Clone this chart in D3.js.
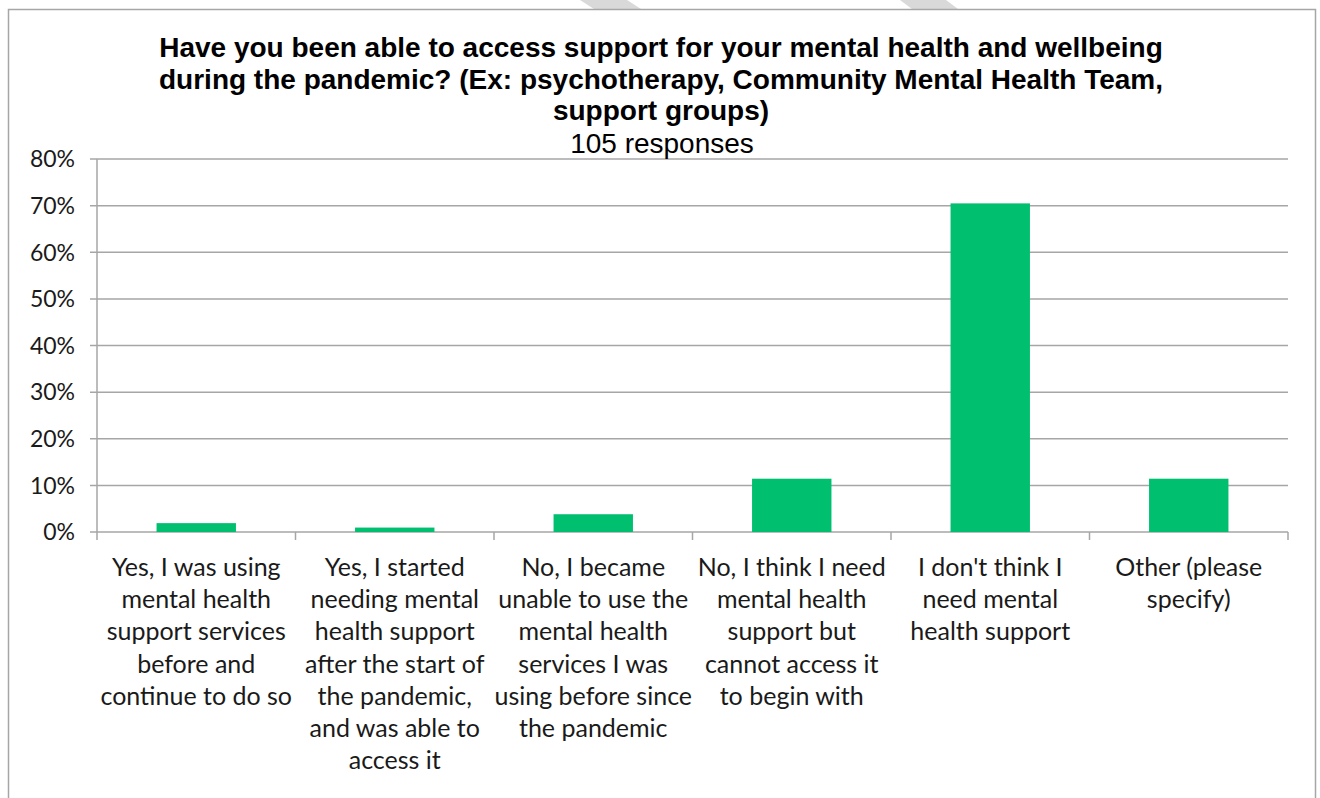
<!DOCTYPE html>
<html>
<head>
<meta charset="utf-8">
<script src="https://cdn.jsdelivr.net/npm/d3@7"></script>
<style>
  html, body { margin: 0; padding: 0; background: #fff; }
  svg { display: block; }
</style>
</head>
<body>
<svg id="chart" width="1320" height="798"></svg>
<script>
// Survey answers (line breaks as shown under each bar)
const categories = [
  "Yes, I was using\nmental health\nsupport services\nbefore and\ncontinue to do so",
  "Yes, I started\nneeding mental\nhealth support\nafter the start of\nthe pandemic,\nand was able to\naccess it",
  "No, I became\nunable to use the\nmental health\nservices I was\nusing before since\nthe pandemic",
  "No, I think I need\nmental health\nsupport but\ncannot access it\nto begin with",
  "I don't think I\nneed mental\nhealth support",
  "Other (please\nspecify)"
];
// Share of the 105 responses, in percent
const shares = [1.90, 0.95, 3.81, 11.43, 70.48, 11.43];
const yTicks = [0, 10, 20, 30, 40, 50, 60, 70, 80];
const titleLines = [
  "Have you been able to access support for your mental health and wellbeing",
  "during the pandemic? (Ex: psychotherapy, Community Mental Health Team,",
  "support groups)"
];
const subtitle = "105 responses";

const svg = d3.select("#chart");
const plot = { left: 97, right: 1288, top: 159, bottom: 532 };
const gridColor = "#a6a6a6";
const barColor = "#00bf6f";
const labelFont = "Lato, 'Open Sans', sans-serif";
const titleFont = "'Liberation Sans', Arial, sans-serif";

// faint diagonal marks peeking above the frame
const stripes = [
  [[580, 0], [627, 0], [641, 9], [594, 9]],
  [[900, 0], [946, 0], [958, 9], [912, 9]]
];
svg.selectAll("polygon.stripe").data(stripes).join("polygon")
  .attr("class", "stripe")
  .attr("points", d => d.map(p => p.join(",")).join(" "))
  .attr("fill", "#d9d9d9");

// chart frame (bottom edge runs off the page)
svg.append("rect")
  .attr("x", 8.5).attr("y", 9.5)
  .attr("width", 1307).attr("height", 820)
  .attr("fill", "#fff")
  .attr("stroke", gridColor).attr("stroke-width", 1.5);

const x = d3.scaleBand()
  .domain(d3.range(categories.length))
  .range([plot.left, plot.right])
  .paddingInner(0.6).paddingOuter(0.3);

const y = d3.scaleLinear().domain([0, 80]).range([plot.bottom, plot.top]);

// horizontal gridlines with left tick marks
svg.append("g").selectAll("line").data(yTicks).join("line")
  .attr("x1", plot.left - 7).attr("x2", plot.right)
  .attr("y1", d => y(d)).attr("y2", d => y(d))
  .attr("stroke", gridColor).attr("stroke-width", 1.5);

// value axis line
svg.append("line")
  .attr("x1", plot.left).attr("x2", plot.left)
  .attr("y1", plot.top).attr("y2", plot.bottom + 8)
  .attr("stroke", gridColor).attr("stroke-width", 1.5);

// category separators below the baseline
const step = x.step();
const boundaries = d3.range(1, categories.length + 1).map(i => plot.left + i * step);
svg.append("g").selectAll("line").data(boundaries).join("line")
  .attr("x1", d => d).attr("x2", d => d)
  .attr("y1", plot.bottom).attr("y2", plot.bottom + 8)
  .attr("stroke", gridColor).attr("stroke-width", 1.5);

// y tick labels
svg.append("g").selectAll("text").data(yTicks).join("text")
  .attr("x", 75).attr("y", d => y(d))
  .attr("dy", "0.36em")
  .attr("text-anchor", "end")
  .attr("font-family", labelFont)
  .attr("font-size", 23)
  .attr("fill", "#1a1a1a")
  .text(d => d + "%");

// bars
svg.append("g").selectAll("rect").data(shares).join("rect")
  .attr("x", (d, i) => x(i))
  .attr("width", x.bandwidth())
  .attr("y", d => y(d))
  .attr("height", d => y(0) - y(d))
  .attr("fill", barColor);

// category labels
const lab = svg.append("g").selectAll("text").data(categories).join("text")
  .attr("x", (d, i) => x(i) + x.bandwidth() / 2)
  .attr("y", 576)
  .attr("text-anchor", "middle")
  .attr("font-family", labelFont)
  .attr("font-size", 25)
  .attr("fill", "#1a1a1a");
lab.selectAll("tspan").data(d => d.split("\n")).join("tspan")
  .attr("x", function () { return this.parentNode.getAttribute("x"); })
  .attr("dy", (d, i) => i === 0 ? 0 : 32.2)
  .text(d => d);

// title
svg.append("g").selectAll("text").data(titleLines).join("text")
  .attr("x", 661).attr("y", (d, i) => 57 + i * 31.5)
  .attr("text-anchor", "middle")
  .attr("font-family", titleFont)
  .attr("font-weight", "bold")
  .attr("font-size", 28)
  .attr("fill", "#000")
  .text(d => d);

svg.append("text")
  .attr("x", 662).attr("y", 153)
  .attr("text-anchor", "middle")
  .attr("font-family", titleFont)
  .attr("font-size", 28)
  .attr("fill", "#000")
  .text(subtitle);
</script>
</body>
</html>
